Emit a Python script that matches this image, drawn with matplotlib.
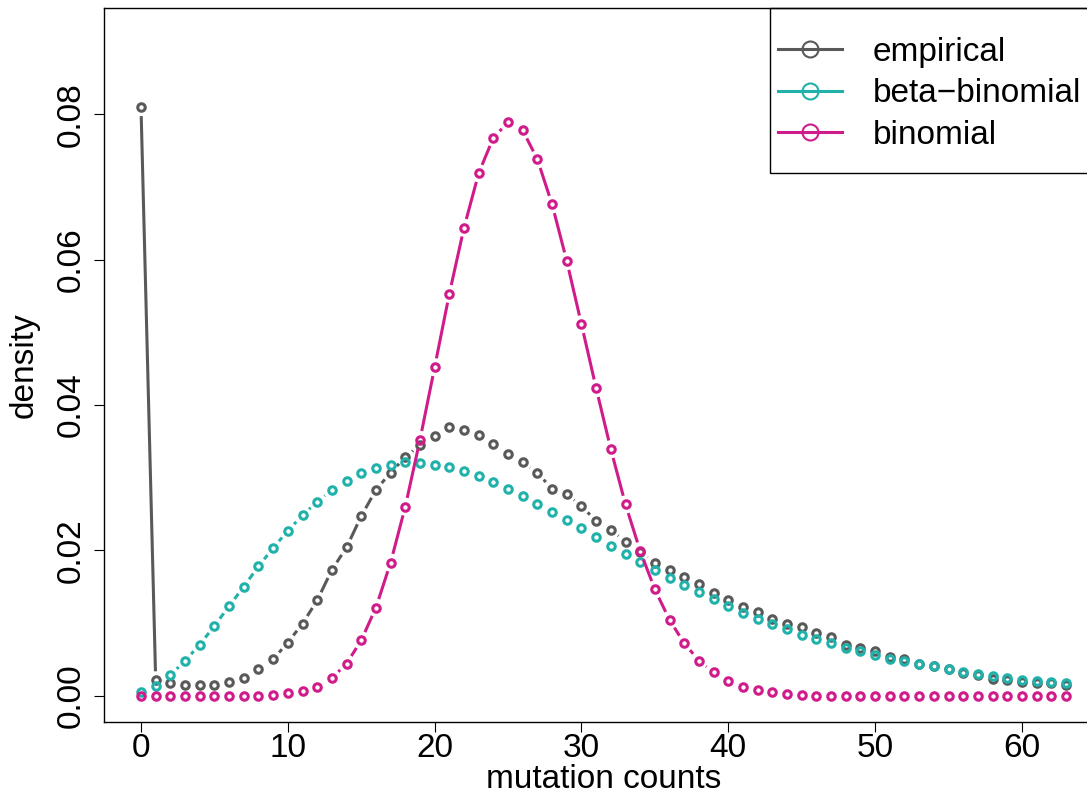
import numpy as np
import matplotlib
matplotlib.use('Agg')
import matplotlib.pyplot as plt
from matplotlib.collections import LineCollection
from matplotlib.lines import Line2D
from matplotlib.patches import Rectangle

# ---------------- data ----------------
counts = list(range(0, 64))

empirical = [0.0810, 0.0021, 0.0017, 0.0015, 0.0014, 0.0015, 0.0019, 0.0024, 0.0036, 0.0050,
             0.0073, 0.0099, 0.0131, 0.0173, 0.0204, 0.0247, 0.0283, 0.0307, 0.0328, 0.0345,
             0.0357, 0.0370, 0.0366, 0.0359, 0.0346, 0.0333, 0.0321, 0.0306, 0.0285, 0.0277,
             0.0261, 0.0240, 0.0228, 0.0212, 0.0198, 0.0183, 0.0173, 0.0163, 0.0154, 0.0141,
             0.0131, 0.0122, 0.0115, 0.0106, 0.0098, 0.0094, 0.0086, 0.0080, 0.0070, 0.0066,
             0.0061, 0.0053, 0.0050, 0.0044, 0.0040, 0.0037, 0.0031, 0.0028, 0.0023, 0.0021,
             0.0019, 0.0017, 0.0017, 0.0014]

beta_binomial = [0.0005, 0.0013, 0.0028, 0.0048, 0.0070, 0.0096, 0.0123, 0.0150, 0.0178, 0.0203,
                 0.0227, 0.0248, 0.0267, 0.0283, 0.0296, 0.0307, 0.0313, 0.0318, 0.0321, 0.0320,
                 0.0318, 0.0314, 0.0309, 0.0302, 0.0294, 0.0284, 0.0275, 0.0264, 0.0253, 0.0242,
                 0.0230, 0.0218, 0.0206, 0.0195, 0.0184, 0.0173, 0.0162, 0.0152, 0.0142, 0.0133,
                 0.0123, 0.0114, 0.0106, 0.0098, 0.0091, 0.0084, 0.0078, 0.0072, 0.0066, 0.0061,
                 0.0056, 0.0051, 0.0047, 0.0044, 0.0040, 0.0036, 0.0033, 0.0030, 0.0027, 0.0024,
                 0.0022, 0.0020, 0.0019, 0.0017]

binomial = [0.0000, 0.0000, 0.0000, 0.0000, 0.0000, 0.0000, 0.0000, 0.0000, 0.0000, 0.0001,
            0.0003, 0.0006, 0.0012, 0.0024, 0.0044, 0.0076, 0.0121, 0.0183, 0.0260, 0.0352,
            0.0452, 0.0553, 0.0644, 0.0719, 0.0768, 0.0789, 0.0778, 0.0738, 0.0676, 0.0598,
            0.0511, 0.0423, 0.0339, 0.0263, 0.0199, 0.0146, 0.0104, 0.0072, 0.0048, 0.0032,
            0.0020, 0.0012, 0.0007, 0.0005, 0.0002, 0.0001, 0.0000, 0.0000, 0.0000, 0.0000,
            0.0000, 0.0000, 0.0000, 0.0000, 0.0000, 0.0000, 0.0000, 0.0000, 0.0000, 0.0000,
            0.0000, 0.0000, 0.0000, 0.0000]

series_names = ['empirical', 'beta\u2212binomial', 'binomial']
series_colors = ['#595959', '#20B2AA', '#D01C8B']

x_ticks = [0, 10, 20, 30, 40, 50, 60]
y_ticks = [0.00, 0.02, 0.04, 0.06, 0.08]
y_tick_labels = ['0.00', '0.02', '0.04', '0.06', '0.08']

# ---------------- figure ----------------
plt.rcParams['font.family'] = ['Liberation Sans', 'DejaVu Sans']
FS = 24

W, H = 1087, 793
fig = plt.figure(figsize=(W / 100, H / 100), dpi=100)
# plot region extends past the right edge (the reference is cropped there)
ax = fig.add_axes([104 / W, (H - 722) / H, 999 / W, 714 / H])
ax.set_xlim(-2.52, 65.52)
ax.set_ylim(-0.00364, 0.09464)


def type_b(ax, x, y, color, gap_px=9.0, lw=2.2, ms=5.4, mew=2.2):
    """R-style type='b': points joined by lines that stop short of each point."""
    x = np.asarray(x, float)
    y = np.asarray(y, float)
    pts = ax.transData.transform(np.column_stack([x, y]))
    inv = ax.transData.inverted()
    segs = []
    for p0, p1 in zip(pts[:-1], pts[1:]):
        d = p1 - p0
        L = np.hypot(d[0], d[1])
        if L > 2 * gap_px:
            u = d / L
            a = p0 + u * gap_px
            b = p1 - u * gap_px
            segs.append(inv.transform(np.array([a, b])))
    if segs:
        ax.add_collection(LineCollection(segs, colors=color, linewidths=lw,
                                         capstyle='butt'))
    ax.plot(x, y, ls='none', marker='o', ms=ms, mfc='none', mec=color, mew=mew)


for vals, col in zip([empirical, beta_binomial, binomial], series_colors):
    type_b(ax, counts, vals, col)

ax.set_xlim(-2.52, 65.52)
ax.set_ylim(-0.00364, 0.09464)

# axes / ticks
for sp in ax.spines.values():
    sp.set_linewidth(1.0)
    sp.set_color('black')
ax.set_xticks(x_ticks)
ax.set_yticks(y_ticks, labels=y_tick_labels)
ax.tick_params(axis='both', direction='out', length=7.2, width=0.8,
               labelsize=FS, colors='black')
ax.tick_params(axis='x', pad=0.5)
ax.tick_params(axis='y', pad=5, labelrotation=90)
for lab in ax.get_yticklabels():
    lab.set_va('center')

ax.set_xlabel('mutation counts', fontsize=FS)
ax.xaxis.set_label_coords(0.5, (722 - 788) / 714)
ax.xaxis.label.set_va('baseline')

ax.set_ylabel('density', fontsize=FS)
ax.yaxis.set_label_coords((33 - 104) / 999, 0.5)
ax.yaxis.label.set_va('baseline')

# legend
handles = [Line2D([], [], color=c, lw=2.2, marker='o', ms=11.5, mfc='none', mew=1.5)
           for c in series_colors]
leg = ax.legend(handles, series_names, loc='upper left',
                bbox_to_anchor=((778 - 104) / 999, (722 - 37) / 714),
                borderpad=0, borderaxespad=0, handlelength=1.92,
                handletextpad=0.93, labelspacing=0.31, frameon=False,
                fontsize=FS)
ax.add_patch(Rectangle(((770 - 104) / 999, (722 - 173) / 714),
                       (1110 - 770) / 999, (173 - 8) / 714,
                       transform=ax.transAxes, fill=False, lw=1.0,
                       ec='black', clip_on=False, zorder=5))

fig.savefig('out.png', dpi=100)
